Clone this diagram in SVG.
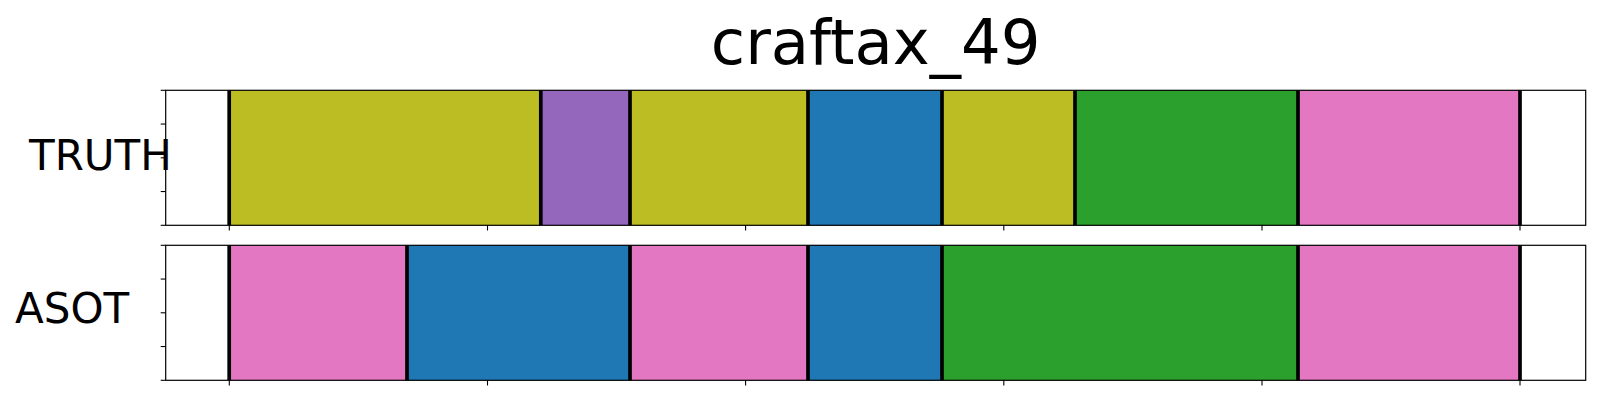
<svg xmlns="http://www.w3.org/2000/svg" width="1600" height="400" viewBox="0 0 1600 400">
<style>
text{font-family:"DejaVu Sans","Liberation Sans",sans-serif;fill:#000}
.title{font-size:62.5px}
.lab{font-size:42px}
.spine{fill:none;stroke:#000;stroke-width:1.2}
.tick{stroke:#000;stroke-width:1.1}
.bnd{stroke:#000;stroke-width:3.7}
.ol{fill:#bcbd22}.pu{fill:#9467bd}.bl{fill:#1f77b4}.gr{fill:#2ca02c}.pk{fill:#e377c2}
</style>
<rect width="1600" height="400" fill="#fff"/>
<text class="title" x="875.7" y="63.5" text-anchor="middle">craftax_49</text>

<g id="truth">
<text class="lab" x="29" y="170">TRUTH</text>
<rect class="ol" x="229.2" y="90.3" width="311.6" height="135"/>
<rect class="pu" x="540.8" y="90.3" width="89.2" height="135"/>
<rect class="ol" x="630" y="90.3" width="178" height="135"/>
<rect class="bl" x="808" y="90.3" width="134" height="135"/>
<rect class="ol" x="942" y="90.3" width="133" height="135"/>
<rect class="gr" x="1075" y="90.3" width="223" height="135"/>
<rect class="pk" x="1298" y="90.3" width="222" height="135"/>
<g class="bnd">
<line x1="229.2" y1="90.3" x2="229.2" y2="225.3"/>
<line x1="540.8" y1="90.3" x2="540.8" y2="225.3"/>
<line x1="630" y1="90.3" x2="630" y2="225.3"/>
<line x1="808" y1="90.3" x2="808" y2="225.3"/>
<line x1="942" y1="90.3" x2="942" y2="225.3"/>
<line x1="1075" y1="90.3" x2="1075" y2="225.3"/>
<line x1="1298" y1="90.3" x2="1298" y2="225.3"/>
<line x1="1520" y1="90.3" x2="1520" y2="225.3"/>
</g>
<rect class="spine" x="165.7" y="90.3" width="1420" height="135"/>
<g class="tick">
<line x1="160.7" y1="90.3" x2="165.7" y2="90.3"/>
<line x1="160.7" y1="124.05" x2="165.7" y2="124.05"/>
<line x1="160.7" y1="157.8" x2="165.7" y2="157.8"/>
<line x1="160.7" y1="191.55" x2="165.7" y2="191.55"/>
<line x1="160.7" y1="225.3" x2="165.7" y2="225.3"/>
<line x1="229.3" y1="225.3" x2="229.3" y2="230.5"/>
<line x1="487.5" y1="225.3" x2="487.5" y2="230.5"/>
<line x1="745.6" y1="225.3" x2="745.6" y2="230.5"/>
<line x1="1003.8" y1="225.3" x2="1003.8" y2="230.5"/>
<line x1="1262" y1="225.3" x2="1262" y2="230.5"/>
<line x1="1520" y1="225.3" x2="1520" y2="230.5"/>
</g>
</g>

<g id="asot">
<text class="lab" x="15" y="323.3">ASOT</text>
<rect class="pk" x="229.2" y="245.3" width="177.8" height="135"/>
<rect class="bl" x="407" y="245.3" width="223" height="135"/>
<rect class="pk" x="630" y="245.3" width="178" height="135"/>
<rect class="bl" x="808" y="245.3" width="134" height="135"/>
<rect class="gr" x="942" y="245.3" width="356" height="135"/>
<rect class="pk" x="1298" y="245.3" width="222" height="135"/>
<g class="bnd">
<line x1="229.2" y1="245.3" x2="229.2" y2="380.3"/>
<line x1="407" y1="245.3" x2="407" y2="380.3"/>
<line x1="630" y1="245.3" x2="630" y2="380.3"/>
<line x1="808" y1="245.3" x2="808" y2="380.3"/>
<line x1="942" y1="245.3" x2="942" y2="380.3"/>
<line x1="1298" y1="245.3" x2="1298" y2="380.3"/>
<line x1="1520" y1="245.3" x2="1520" y2="380.3"/>
</g>
<rect class="spine" x="165.7" y="245.3" width="1420" height="135"/>
<g class="tick">
<line x1="160.7" y1="245.3" x2="165.7" y2="245.3"/>
<line x1="160.7" y1="279.05" x2="165.7" y2="279.05"/>
<line x1="160.7" y1="312.8" x2="165.7" y2="312.8"/>
<line x1="160.7" y1="346.55" x2="165.7" y2="346.55"/>
<line x1="160.7" y1="380.3" x2="165.7" y2="380.3"/>
<line x1="229.3" y1="380.3" x2="229.3" y2="385.5"/>
<line x1="487.5" y1="380.3" x2="487.5" y2="385.5"/>
<line x1="745.6" y1="380.3" x2="745.6" y2="385.5"/>
<line x1="1003.8" y1="380.3" x2="1003.8" y2="385.5"/>
<line x1="1262" y1="380.3" x2="1262" y2="385.5"/>
<line x1="1520" y1="380.3" x2="1520" y2="385.5"/>
</g>
</g>
</svg>
